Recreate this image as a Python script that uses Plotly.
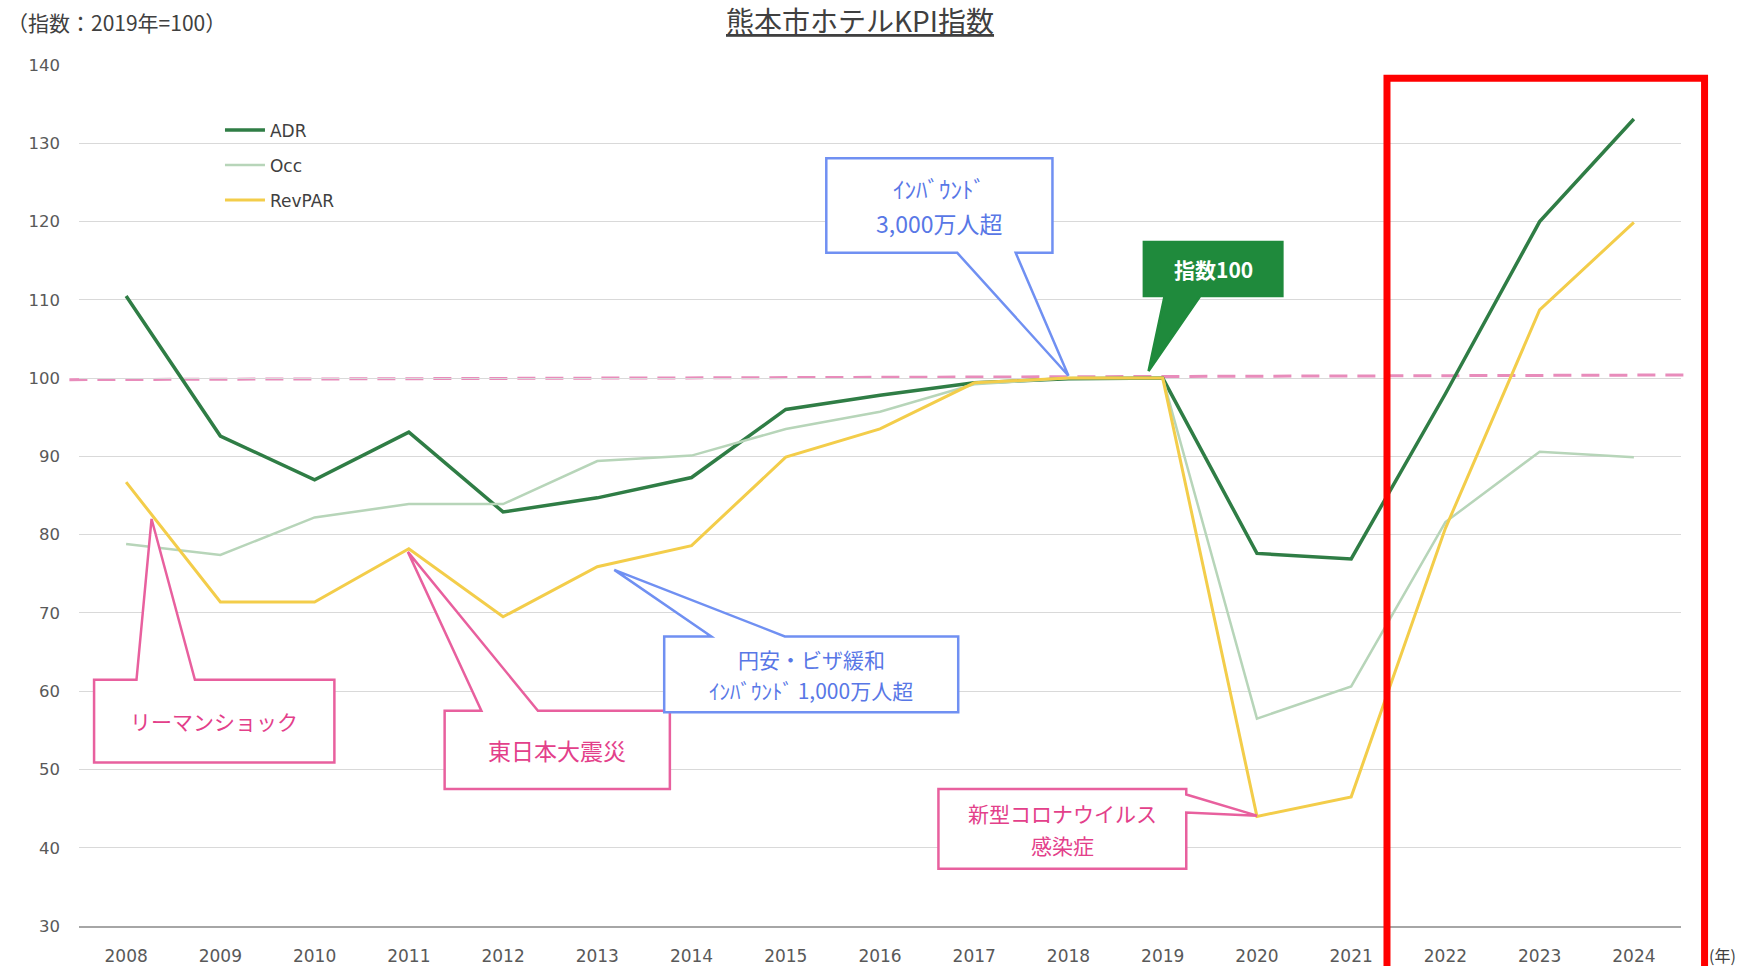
import plotly.graph_objects as go

years = list(range(2008, 2025))
adr = [110.5, 92.6, 87.0, 93.1, 82.9, 84.7, 87.3, 96.0, 97.8, 99.4, 99.9, 100.0, 77.6, 76.9, 98.0, 120.0, 133.1]
occ = [78.8, 77.4, 82.2, 83.9, 83.9, 89.4, 90.1, 93.5, 95.7, 99.2, 100.0, 100.0, 56.5, 60.6, 81.6, 90.6, 89.9]
revpar = [86.7, 71.4, 71.4, 78.2, 69.5, 75.9, 78.6, 89.9, 93.5, 99.4, 100.0, 100.0, 44.0, 46.5, 80.8, 108.7, 119.9]

series_names = ["ADR", "Occ", "RevPAR"]
series_colors = ["#2f7d45", "#b7d5b9", "#f3cd4a"]
series_widths = [3.5, 2.5, 3]

JP = "Noto Sans CJK JP"
LAT = "DejaVu Sans"
PINK = "#e8609e"
PINK_TXT = "#e3408a"
BLUE = "#7090f2"
BLUE_TXT = "#5877e6"
GREEN = "#1f8a3c"

XMIN, XMAX = 2007.5, 2024.5


def px(x):
    return (x - XMIN) / (XMAX - XMIN)


fig = go.Figure()
for name, vals, col, w in zip(series_names, [adr, occ, revpar], series_colors, series_widths):
    fig.add_trace(go.Scatter(x=years, y=vals, mode="lines", name=name,
                             line=dict(color=col, width=w), legendgroup=name))


def bubble(box, tip, base, side):
    x0, x1, yt, yb = box
    tx, ty = tip
    b0, b1 = base
    if side == "top":
        pts = [(x0, yb), (x0, yt), (b0, yt), (tx, ty), (b1, yt), (x1, yt), (x1, yb)]
    elif side == "bottom":
        pts = [(x0, yt), (x1, yt), (x1, yb), (b1, yb), (tx, ty), (b0, yb), (x0, yb)]
    else:  # right
        pts = [(x0, yt), (x1, yt), (x1, b0), (tx, ty), (x1, b1), (x1, yb), (x0, yb)]
    return "M " + " L ".join(f"{a},{b}" for a, b in pts) + " Z"


callouts = [
    # box(x0,x1,ytop,ybot), tip, base, side, border, fill, text lines, textcolor, size
    ((2007.66, 2010.21, 61.45, 50.9), (2008.27, 82.0), (2008.11, 2008.73), "top",
     PINK, "white", ["リーマンショック"], PINK_TXT, 21),
    ((2011.38, 2013.77, 57.5, 47.5), (2010.99, 77.8), (2011.77, 2012.37), "top",
     PINK, "white", ["東日本大震災"], PINK_TXT, 23),
    ((2013.71, 2016.83, 67.0, 57.3), (2013.18, 75.5), (2014.21, 2014.99), "top",
     BLUE, "white", ["円安・ビザ緩和", "ｲﾝﾊﾞｳﾝﾄﾞ 1,000万人超"], BLUE_TXT, 21),
    ((2015.43, 2017.83, 128.1, 116.0), (2018.0, 100.3), (2016.82, 2017.44), "bottom",
     BLUE, "white", ["ｲﾝﾊﾞｳﾝﾄﾞ", "3,000万人超"], BLUE_TXT, 23),
    ((2018.80, 2020.27, 117.4, 110.5), (2018.85, 100.9), (2019.02, 2019.40), "bottom",
     GREEN, GREEN, ["<b>指数100</b>"], "white", 21),
    ((2016.62, 2019.25, 47.5, 37.3), (2020.0, 44.1), (46.8, 44.5), "right",
     PINK, "white", ["新型コロナウイルス", "感染症"], PINK_TXT, 21),
]

shapes = []
annotations = []

# dashed reference line at 100
shapes.append(dict(type="line", xref="paper", yref="y", x0=-0.006, x1=1.007, y0=99.8, y1=100.4,
                   line=dict(color="#e88cbb", width=3, dash="18px,10px"), layer="below"))

for box, tip, base, side, border, fill, lines, tcol, size in callouts:
    shapes.append(dict(type="path", xref="x", yref="y", path=bubble(box, tip, base, side),
                       line=dict(color=border, width=2.5), fillcolor=fill, layer="above"))
    n = len(lines)
    lh = 1.5 * size
    for i, line in enumerate(lines):
        annotations.append(dict(xref="x", yref="y", x=(box[0] + box[1]) / 2,
                                y=(box[2] + box[3]) / 2,
                                yshift=((n - 1) / 2 - i) * lh,
                                text=line, showarrow=False,
                                font=dict(family=JP, size=size, color=tcol)))

# red highlight rectangle
shapes.append(dict(type="rect", xref="paper", yref="paper", x0=px(2021.38), x1=px(2024.75),
                   y0=-0.06, y1=0.9845, line=dict(color="#ff0000", width=7),
                   fillcolor="rgba(0,0,0,0)", layer="above"))

annotations += [
    dict(xref="paper", yref="paper", x=0.4876, y=1.0518, text="<u>熊本市ホテルKPI指数</u>",
         showarrow=False, font=dict(family=JP, size=28, color="#404040"), yanchor="middle"),
    dict(xref="paper", yref="paper", x=-0.046, y=1.0495, text="（指数：2019年=100）",
         showarrow=False, xanchor="left", yanchor="middle",
         font=dict(family=JP, size=21, color="#404040")),
    dict(xref="paper", yref="paper", x=1.016, y=-0.034, text="(年)", showarrow=False,
         xanchor="left", yanchor="middle", font=dict(family=JP, size=16, color="#404040")),
]

fig.update_layout(
    width=1746, height=966,
    margin=dict(l=79, r=65, t=65, b=40),
    paper_bgcolor="white", plot_bgcolor="white",
    font=dict(family=JP, color="#595959"),
    showlegend=True,
    legend=dict(x=0.088, y=0.945, xanchor="left", yanchor="top", bgcolor="rgba(0,0,0,0)",
                font=dict(family=LAT, size=17, color="#404040"),
                tracegroupgap=10, itemwidth=40),
    shapes=shapes,
    annotations=annotations,
    xaxis=dict(range=[XMIN, XMAX], tickvals=years, ticktext=[str(y) for y in years],
               showgrid=False, zeroline=False, showline=True, linecolor="#a6a6a6", linewidth=2,
               ticks="outside", ticklen=14, tickcolor="rgba(0,0,0,0)", automargin=False,
               tickfont=dict(family=LAT, size=17, color="#595959")),
    yaxis=dict(range=[30, 140], dtick=10, showgrid=True, gridcolor="#d9d9d9", gridwidth=1,
               zeroline=False, showline=False, ticks="", ticklabelstandoff=18, automargin=False,
               tickfont=dict(family=LAT, size=16.5, color="#595959")),
)

fig.write_html("out.html", config={"displayModeBar": False},
               post_script="document.body.style.margin='0px';document.body.style.overflow='hidden';")
